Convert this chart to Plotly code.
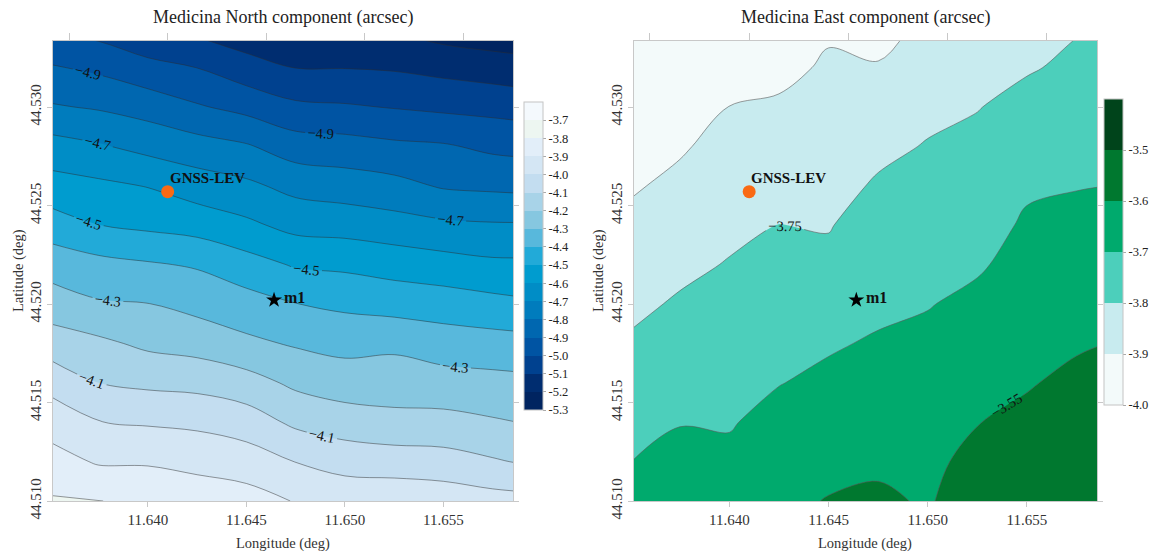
import plotly.graph_objects as go

# ---------------- data ----------------
lon = [11.635, 11.6375, 11.640, 11.6425, 11.645, 11.6475, 11.650, 11.6525, 11.655, 11.6575, 11.660]
lat = [44.510, 44.512, 44.514, 44.516, 44.518, 44.520, 44.522, 44.524, 44.526, 44.528, 44.530, 44.532, 44.534]

# North component (arcsec), rows = lat (bottom -> top), cols = lon (west -> east)
north = [
    [-3.79, -3.798, -3.82, -3.84, -3.86, -3.905, -3.93, -3.93, -3.94, -3.96, -3.97],
    [-3.86, -3.91, -3.91, -3.93, -3.95, -4.002, -4.04, -4.05, -4.06, -4.09, -4.12],
    [-3.94, -3.998, -4.01, -4.02, -4.05, -4.12, -4.15, -4.17, -4.17, -4.19, -4.21],
    [-4.03, -4.10, -4.12, -4.13, -4.16, -4.22, -4.25, -4.25, -4.26, -4.27, -4.28],
    [-4.15, -4.18, -4.22, -4.24, -4.28, -4.31, -4.33, -4.32, -4.35, -4.36, -4.37],
    [-4.25, -4.29, -4.298, -4.33, -4.36, -4.398, -4.42, -4.44, -4.45, -4.47, -4.49],
    [-4.34, -4.37, -4.39, -4.41, -4.46, -4.51, -4.52, -4.54, -4.56, -4.58, -4.58],
    [-4.45, -4.499, -4.52, -4.54, -4.58, -4.63, -4.64, -4.66, -4.68, -4.69, -4.69],
    [-4.56, -4.58, -4.604, -4.65, -4.68, -4.73, -4.75, -4.77, -4.81, -4.82, -4.83],
    [-4.66, -4.69, -4.73, -4.76, -4.79, -4.85, -4.86, -4.88, -4.89, -4.92, -4.93],
    [-4.79, -4.81, -4.84, -4.89, -4.93, -4.98, -4.99, -5.005, -5.02, -5.03, -5.05],
    [-4.89, -4.92, -4.97, -5.001, -5.06, -5.102, -5.103, -5.11, -5.13, -5.15, -5.17],
    [-5.01, -5.04, -5.09, -5.13, -5.17, -5.17, -5.18, -5.21, -5.25, -5.27, -5.28],
]

# East component (arcsec)
east = [
    [-3.62, -3.60, -3.60, -3.575, -3.545, -3.540, -3.556, -3.515, -3.51, -3.505, -3.505],
    [-3.651, -3.62, -3.63, -3.59, -3.58, -3.56, -3.57, -3.525, -3.52, -3.51, -3.51],
    [-3.68, -3.654, -3.657, -3.62, -3.60, -3.58, -3.59, -3.552, -3.535, -3.525, -3.52],
    [-3.71, -3.68, -3.68, -3.653, -3.63, -3.61, -3.61, -3.58, -3.555, -3.535, -3.53],
    [-3.74, -3.71, -3.70, -3.68, -3.66, -3.64, -3.63, -3.61, -3.58, -3.557, -3.545],
    [-3.77, -3.74, -3.72, -3.70, -3.69, -3.67, -3.654, -3.63, -3.60, -3.58, -3.57],
    [-3.80, -3.77, -3.745, -3.73, -3.73, -3.69, -3.68, -3.66, -3.62, -3.60, -3.60],
    [-3.83, -3.80, -3.77, -3.749, -3.755, -3.71, -3.70, -3.68, -3.64, -3.63, -3.62],
    [-3.86, -3.83, -3.80, -3.78, -3.78, -3.74, -3.72, -3.71, -3.66, -3.653, -3.648],
    [-3.89, -3.86, -3.82, -3.81, -3.80, -3.77, -3.745, -3.73, -3.69, -3.68, -3.67],
    [-3.91, -3.90, -3.849, -3.84, -3.82, -3.81, -3.77, -3.753, -3.725, -3.70, -3.69],
    [-3.93, -3.93, -3.88, -3.87, -3.84, -3.844, -3.80, -3.78, -3.757, -3.735, -3.72],
    [-3.95, -3.95, -3.90, -3.90, -3.86, -3.88, -3.83, -3.80, -3.785, -3.755, -3.74],
]

sites_name = ["GNSS-LEV", "m1"]
sites_lon = [11.6410, 11.6464]
sites_lat = [44.5257, 44.5202]

x_ticks = [11.640, 11.645, 11.650, 11.655]
x_ticktext = ["11.640", "11.645", "11.650", "11.655"]
x_top_ticks = [11.636, 11.641, 11.646, 11.651, 11.656]
y_ticks = [44.510, 44.515, 44.520, 44.525, 44.530]
y_ticktext = ["44.510", "44.515", "44.520", "44.525", "44.530"]

north_cb_ticks = [-5.3, -5.2, -5.1, -5.0, -4.9, -4.8, -4.7, -4.6, -4.5, -4.4, -4.3, -4.2, -4.1, -4.0, -3.9, -3.8, -3.7]
east_cb_ticks = [-4.0, -3.9, -3.8, -3.7, -3.6, -3.5]

# band colours, low -> high
north_colors = ["#002460", "#002d70", "#00418f", "#0054a3", "#0067b0", "#007cbd", "#008dc6",
                "#009ccf", "#22aad8", "#58b8dc", "#86c7e0", "#a8d3e8", "#c3ddf0", "#d4e6f4",
                "#e2eef9", "#edf6f1", "#f4f9fd"]
east_colors = ["#f3fafa", "#c8ebef", "#4ccfbb", "#00aa6d", "#00782f", "#00441b"]

X_RANGE = [11.63518, 11.65853]
Y_RANGE = [44.510, 44.53335]
FONT = "Liberation Serif"
W, H = 1156, 553

# ---------------- helpers ----------------
def step_scale(colors):
    n = len(colors)
    sc = []
    for k, c in enumerate(colors):
        sc.append([k / n, c])
        sc.append([(k + 1) / n, c])
    return sc

fig = go.Figure()

# ---------- North (left) ----------
fig.add_trace(go.Contour(
    x=lon, y=lat, z=north, xaxis="x", yaxis="y",
    autocontour=False,
    contours=dict(start=-5.2, end=-3.7, size=0.1, coloring="fill", showlines=False),
    zmin=-5.3, zmax=-3.6, colorscale=step_scale(north_colors),
    line=dict(width=0, smoothing=1),
    hoverinfo="skip",
    colorbar=dict(x=524 / W, xanchor="left", xpad=0, y=1 - 102 / H, yanchor="top", ypad=0,
                  len=308, lenmode="pixels", thickness=19, thicknessmode="pixels",
                  outlinecolor="#c4c4c4", outlinewidth=1,
                  tickvals=north_cb_ticks, ticktext=["%.1f" % v for v in north_cb_ticks],
                  ticks="outside", ticklen=3, tickcolor="#aaaaaa",
                  tickfont=dict(family=FONT, size=12.5, color="#222")),
))
line_left = dict(color="rgba(45,45,45,0.6)", width=0.8, smoothing=1)
for st, en, sz in [(-5.2, -3.8, 0.2), (-5.1, -3.9, 1.2)]:
    fig.add_trace(go.Contour(
        x=lon, y=lat, z=north, xaxis="x", yaxis="y", autocontour=False,
        contours=dict(start=st, end=en, size=sz, coloring="none", showlines=True, showlabels=False),
        line=line_left, showscale=False, hoverinfo="skip"))
# labelled levels -4.9 ... -4.1 (values outside the labelled band are held flat so no extra level is drawn)
north_lab = [[min(max(v, -5.08), -3.92) for v in row] for row in north]
fig.add_trace(go.Contour(
    x=lon, y=lat, z=north_lab, xaxis="x", yaxis="y", autocontour=False,
    contours=dict(start=-7.3, end=-1.7, size=0.2, coloring="none", showlines=True,
                  showlabels=True, labelformat=".1f",
                  labelfont=dict(family=FONT, size=14.5, color="#111")),
    line=line_left, showscale=False, hoverinfo="skip"))

# ---------- East (right) ----------
fig.add_trace(go.Contour(
    x=lon, y=lat, z=east, xaxis="x2", yaxis="y2",
    autocontour=False,
    contours=dict(start=-3.85, end=-3.55, size=0.1, coloring="fill", showlines=False),
    zmin=-3.95, zmax=-3.45, colorscale=step_scale(east_colors[:5]),
    line=dict(width=0, smoothing=1), showscale=False, hoverinfo="skip"))
line_right = dict(color="rgba(90,90,90,0.75)", width=0.8, smoothing=1)
for st, en, sz, lab in [(-3.85, -3.65, 0.2, False), (-3.75, -3.55, 0.2, True)]:
    fig.add_trace(go.Contour(
        x=lon, y=lat, z=east, xaxis="x2", yaxis="y2", autocontour=False,
        contours=dict(start=st, end=en, size=sz, coloring="none", showlines=True,
                      showlabels=lab, labelformat=".2f",
                      labelfont=dict(family=FONT, size=14.5, color="#111")),
        line=line_right, showscale=False, hoverinfo="skip"))

# colour-bar carrier for the East panel (lies outside the visible axis range)
fig.add_trace(go.Contour(
    x=[11.70, 11.71], y=[44.60, 44.61], z=[[east_cb_ticks[0], -3.4], [-3.4, east_cb_ticks[0]]],
    xaxis="x2", yaxis="y2", autocontour=False,
    contours=dict(start=-3.9, end=-3.5, size=0.1, coloring="fill", showlines=False),
    zmin=-4.0, zmax=-3.4, colorscale=step_scale(east_colors),
    line=dict(width=0), hoverinfo="skip",
    colorbar=dict(x=1104 / W, xanchor="left", xpad=0, y=1 - 99 / H, yanchor="top", ypad=0,
                  len=306, lenmode="pixels", thickness=19, thicknessmode="pixels",
                  outlinecolor="#c4c4c4", outlinewidth=1,
                  tickvals=east_cb_ticks, ticktext=["%.1f" % v for v in east_cb_ticks],
                  ticks="outside", ticklen=3, tickcolor="#aaaaaa",
                  tickfont=dict(family=FONT, size=12.5, color="#222")),
))

# ---------- site markers ----------
for xa, ya in [("x", "y"), ("x2", "y2")]:
    fig.add_trace(go.Scatter(x=[sites_lon[0]], y=[sites_lat[0]], mode="markers", xaxis=xa, yaxis=ya,
                             marker=dict(symbol="circle", size=13, color="#f96a14"),
                             hoverinfo="skip", showlegend=False))
    fig.add_trace(go.Scatter(x=[sites_lon[1]], y=[sites_lat[1]], mode="markers", xaxis=xa, yaxis=ya,
                             marker=dict(symbol="star", size=12, color="#000"),
                             hoverinfo="skip", showlegend=False))
    fig.add_annotation(x=sites_lon[0], y=sites_lat[0], xref=xa, yref=ya, text="<b>%s</b>" % sites_name[0],
                       showarrow=False, xanchor="left", yanchor="bottom", xshift=0, yshift=4,
                       font=dict(family=FONT, size=15, color="#111"))
    fig.add_annotation(x=sites_lon[1], y=sites_lat[1], xref=xa, yref=ya, text="<b>%s</b>" % sites_name[1],
                       showarrow=False, xanchor="left", yanchor="middle", xshift=8, yshift=3,
                       font=dict(family=FONT, size=16, color="#111"))

# dummy traces so the top tick axes exist
fig.add_trace(go.Scatter(x=[None], y=[None], xaxis="x3", yaxis="y", showlegend=False, hoverinfo="skip"))
fig.add_trace(go.Scatter(x=[None], y=[None], xaxis="x4", yaxis="y2", showlegend=False, hoverinfo="skip"))

AX = dict(showgrid=False, zeroline=False, showline=True, linecolor="#c8c8c8", linewidth=1,
          ticks="outside", tickcolor="#c8c8c8", ticklen=5,
          tickfont=dict(family=FONT, size=15, color="#333"))

dom_l = [53 / W, 513 / W]
dom_r = [633.7 / W, 1097 / W]
dom_y = [1 - 501 / H, 1 - 41 / H]

fig.update_layout(
    width=W, height=H, autosize=False, margin=dict(l=0, r=0, t=0, b=0, autoexpand=False),
    paper_bgcolor="white", plot_bgcolor="white", showlegend=False,
    font=dict(family=FONT, color="#333"),
    xaxis=dict(AX, domain=dom_l, range=X_RANGE, anchor="y", tickvals=x_ticks, ticktext=x_ticktext),
    yaxis=dict(AX, domain=dom_y, range=Y_RANGE, anchor="x", tickvals=y_ticks, ticktext=y_ticktext,
               tickangle=-90, mirror="ticks"),
    xaxis2=dict(AX, domain=dom_r, range=X_RANGE, anchor="y2", tickvals=x_ticks, ticktext=x_ticktext),
    yaxis2=dict(AX, domain=dom_y, range=Y_RANGE, anchor="x2", tickvals=y_ticks, ticktext=y_ticktext,
                tickangle=-90, mirror="ticks"),
    xaxis3=dict(AX, overlaying="x", anchor="y", side="top", range=X_RANGE, tickvals=x_top_ticks,
                showticklabels=False, ticklen=7),
    xaxis4=dict(AX, overlaying="x2", anchor="y2", side="top", range=X_RANGE, tickvals=x_top_ticks,
                showticklabels=False, ticklen=7),
)

titles = [
    ((dom_l[0] + dom_l[1]) / 2, "Medicina North component (arcsec)"),
    ((dom_r[0] + dom_r[1]) / 2, "Medicina East component (arcsec)"),
]
for xc, t in titles:
    fig.add_annotation(x=xc, y=1 - 18 / H, xref="paper", yref="paper", text=t, showarrow=False,
                       xanchor="center", yanchor="middle", font=dict(family=FONT, size=18, color="#222"))
    fig.add_annotation(x=xc, y=1 - 543 / H, xref="paper", yref="paper", text="Longitude (deg)",
                       showarrow=False, xanchor="center", yanchor="middle",
                       font=dict(family=FONT, size=14.5, color="#333"))
for xl in [18 / W, 598 / W]:
    fig.add_annotation(x=xl, y=1 - 271 / H, xref="paper", yref="paper", text="Latitude (deg)",
                       showarrow=False, textangle=-90, xanchor="center", yanchor="middle",
                       font=dict(family=FONT, size=14.5, color="#333"))

fig.write_html("out.html", config={"displayModeBar": False, "responsive": False},
               post_script="document.body.style.margin='0px';document.body.style.overflow='hidden';")
